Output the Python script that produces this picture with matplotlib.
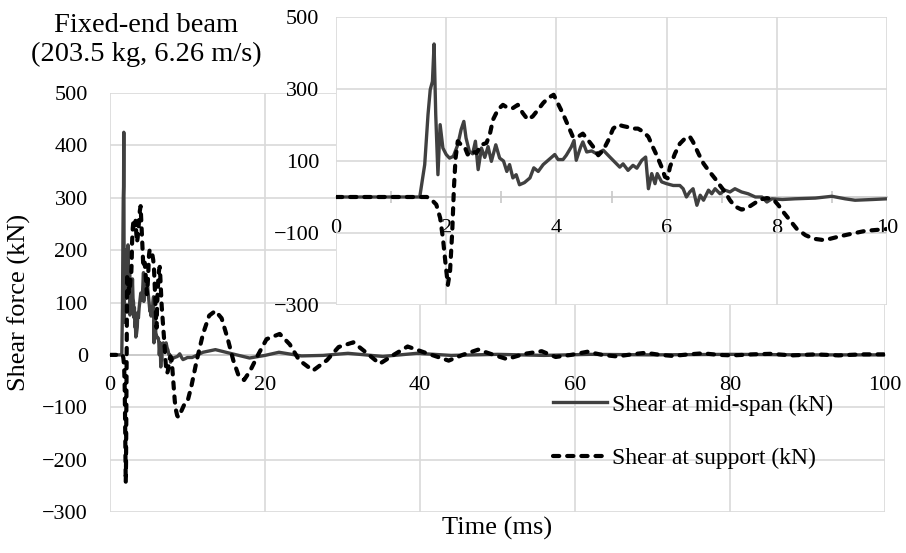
import matplotlib
matplotlib.use('Agg')
import matplotlib.pyplot as plt
from matplotlib.ticker import MultipleLocator

plt.rcParams['font.family'] = ['Liberation Serif', 'DejaVu Serif']

# shear at mid-span (time in ms, force in kN)
time_mid = [0, 1.52, 1.61, 1.67, 1.71, 1.75, 1.78, 1.81, 1.85, 1.89, 1.94, 2.00, 2.06, 2.13,
            2.21, 2.27, 2.32, 2.36, 2.42, 2.48, 2.53, 2.58, 2.64, 2.70, 2.76, 2.82, 2.90, 2.97,
            3.04, 3.10, 3.15, 3.21, 3.27, 3.33, 3.42, 3.52, 3.59, 3.67, 3.76, 3.88, 3.97, 4.03,
            4.12, 4.18, 4.27, 4.32, 4.36, 4.44, 4.48, 4.55, 4.64, 4.73, 4.85, 4.97, 5.06, 5.15,
            5.21, 5.30, 5.39, 5.46, 5.55, 5.62, 5.67, 5.73, 5.79, 5.83, 5.91, 6.00, 6.12, 6.24,
            6.30, 6.36, 6.42, 6.48, 6.55, 6.61, 6.67, 6.76, 6.82, 6.88, 6.97, 7.06, 7.15, 7.24,
            7.36, 7.48, 7.61, 7.73, 7.82, 7.91, 8.1, 8.33, 8.70, 9.0, 9.24, 9.42, 9.73, 10.0,
            10.6, 12.0, 13.6, 15.5, 18.0, 20.0, 21.8, 24.7, 27.5, 30.7, 35.2, 39.6, 44, 50,
            56, 62, 70, 80, 90, 100]
shear_mid = [0, 0, 90, 229, 298, 321, 425, 229, 62, 201, 136, 118, 108, 113,
             145, 187, 210, 164, 127, 120, 155, 76, 136, 110, 140, 99, 145, 108,
             100, 71, 90, 53, 62, 34, 40, 53, 81, 71, 90, 106, 118, 104,
             104, 116, 139, 157, 102, 139, 153, 125, 128, 120, 130, 111, 97, 83,
             92, 74, 88, 80, 102, 111, 23, 65, 37, 65, 42, 37, 32, 32,
             23, 0, 14, 23, -23, 5, -9, 19, 9, 23, 9, 19, 14, 23,
             14, 9, 0, 0, -14, -5, -7, -5, -3, 2, -5, -9, -7, -5,
             -5, 5, 10, 3, -6, -1, 5, -2, -1, 3, -3, 3, -1, 1,
             -1, 1, 0, 1, 0, 0]

# shear at support
time_sup = [0, 1.65, 1.73, 1.82, 1.89, 1.94, 1.99, 2.03, 2.07, 2.11, 2.14, 2.17, 2.21, 2.27,
            2.33, 2.39, 2.45, 2.55, 2.64, 2.73, 2.79, 2.85, 2.94, 3.03, 3.12, 3.21, 3.30, 3.39,
            3.48, 3.57, 3.67, 3.76, 3.85, 3.95, 4.03, 4.12, 4.21, 4.30, 4.39, 4.48, 4.58, 4.67,
            4.76, 4.85, 4.94, 5.03, 5.12, 5.21, 5.30, 5.39, 5.48, 5.58, 5.67, 5.75, 5.82, 5.91,
            5.97, 6.02, 6.06, 6.15, 6.24, 6.33, 6.42, 6.48, 6.58, 6.67, 6.76, 6.88, 6.97, 7.06,
            7.15, 7.24, 7.36, 7.45, 7.58, 7.70, 7.82, 7.94, 8.03, 8.12, 8.24, 8.36, 8.52, 8.67,
            8.82, 8.97, 9.15, 9.36, 9.61, 9.85, 10.0, 10.5, 11.2, 12.0, 12.8, 13.6, 14.4, 15.2,
            15.9, 16.6, 17.3, 18.1, 19.1, 20.2, 21.9, 23.2, 24.4, 26.2, 28.0, 29.5, 31.4, 33.0,
            34.8, 36.6, 38.4, 40.5, 43.7, 45.5, 47.5, 49.5, 51.2, 53.5, 55.7, 57.5, 59.5, 61.6,
            63.5, 65.4, 67.3, 69.1, 71.0, 72.6, 74.7, 76.5, 78.5, 80.3, 83.0, 85.2, 88.0, 91.0,
            94.0, 97.0, 100.0]
shear_sup = [0, 0, -7, -21, -58, -114, -188, -244, -206, -95, 25, 108, 155, 145,
             141, 118, 128, 122, 145, 150, 173, 215, 243, 256, 247, 247, 256, 233,
             215, 224, 243, 261, 275, 284, 259, 231, 199, 167, 167, 176, 157, 139,
             116, 130, 157, 190, 201, 197, 194, 190, 190, 181, 167, 139, 116, 83,
             56, 52, 83, 120, 148, 162, 168, 153, 120, 93, 74, 51, 32, 14,
             -9, -26, -35, -32, -19, -7, -3, -7, -23, -42, -65, -88, -106, -116,
             -119, -116, -109, -102, -94, -91, -89, -60, -10, 40, 75, 84, 70, 30,
             -10, -40, -48, -30, 0, 30, 40, 20, -10, -30, -10, 15, 24, 5,
             -17, 0, 16, 5, -11, 0, 10, 0, -8, 2, 7, -4, 0, 6,
             0, -3, 1, 4, 0, -2, 1, 3, 0, -1, 1, 2, -1, 1,
             -1, 1, 1]

label_mid = 'Shear at mid-span (kN)'
label_sup = 'Shear at support (kN)'

W, H = 906, 553
grid_c = '#d9d9d9'
mid_c = '#404040'
dash = (0, (1.5, 1.9))


def px_box(left, top, right, bottom):
    # figure fraction box from pixel edges
    return [left / W, 1 - bottom / H, (right - left) / W, (bottom - top) / H]


def style_axes(ax, xpad, ypad):
    ax.grid(True, color=grid_c, linewidth=1.2)
    ax.set_axisbelow(True)
    for s in ['top', 'right', 'left']:
        ax.spines[s].set_visible(False)
    ax.spines['bottom'].set_position(('data', 0))
    ax.spines['bottom'].set_color('#c8c8c8')
    ax.spines['bottom'].set_linewidth(1.2)
    ax.tick_params(axis='both', which='major', length=0, labelsize=16)
    ax.tick_params(axis='x', which='major', pad=xpad)
    ax.tick_params(axis='y', which='major', pad=ypad)


fig = plt.figure(figsize=(W / 100, H / 100), dpi=100)

# main chart
ax = fig.add_axes(px_box(110, 93, 885, 512))
ax.plot(time_mid, shear_mid, color=mid_c, lw=2.4, zorder=3, label=label_mid)
ax.plot(time_sup, shear_sup, color='black', lw=3.0, ls=dash,
        dash_capstyle='round', zorder=3, label=label_sup)
ax.set_xlim(0, 100)
ax.set_ylim(-300, 500)
ax.xaxis.set_major_locator(MultipleLocator(20))
ax.yaxis.set_major_locator(MultipleLocator(100))
style_axes(ax, 15, 16)

# zoomed inset, first 10 ms
ax2 = fig.add_axes(px_box(336, 17, 887, 305))
ax2.set_facecolor('white')
ax2.plot(time_mid, shear_mid, color=mid_c, lw=2.4, zorder=3)
ax2.plot(time_sup, shear_sup, color='black', lw=3.0, ls=dash,
         dash_capstyle='round', zorder=3)
ax2.set_xlim(0, 10)
ax2.set_ylim(-300, 500)
ax2.xaxis.set_major_locator(MultipleLocator(2))
ax2.xaxis.set_minor_locator(MultipleLocator(1))
ax2.set_yticks([-300, -100, 100, 300, 500])
style_axes(ax2, 16, 12)
ax2.tick_params(axis='x', which='minor', length=8, direction='inout',
                color='#c8c8c8', width=1.2)

leg = fig.legend(*ax.get_legend_handles_labels(), loc='upper left',
                 bbox_to_anchor=(553 / W, 1 - 394 / H), frameon=False,
                 fontsize=17, handlelength=2.3, handletextpad=0.2,
                 labelspacing=1.35, borderpad=0, borderaxespad=0)

fig.text(146 / W, 1 - 40 / H, 'Fixed-end beam\n(203.5 kg, 6.26 m/s)',
         ha='center', va='center', fontsize=20.5, linespacing=1.15)
fig.text(19 / W, 1 - 302 / H, 'Shear force (kN)', rotation=90,
         ha='center', va='center', fontsize=19)
fig.text(497 / W, 1 - 528 / H, 'Time (ms)', ha='center', va='center', fontsize=19)

fig.savefig('out.png', dpi=100)
